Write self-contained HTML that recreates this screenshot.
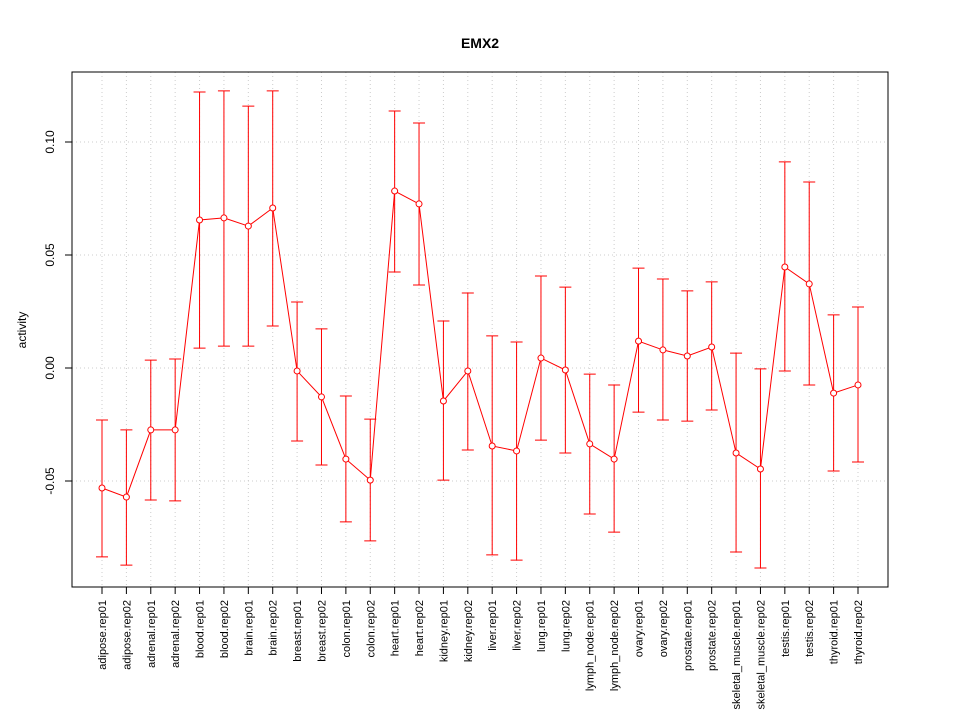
<!DOCTYPE html>
<html><head><meta charset="utf-8"><style>
body{margin:0;background:#fff}
svg{font-family:"Liberation Sans",Arial,sans-serif}
</style></head><body>
<svg id="chart" width="960" height="720" xmlns="http://www.w3.org/2000/svg">
<rect width="960" height="720" fill="#fff"/>
<text x="480" y="48" text-anchor="middle" font-size="14" font-weight="bold">EMX2</text>
<text transform="translate(26,330) rotate(-90)" text-anchor="middle" font-size="12">activity</text>
<g id="grid"></g><g id="axes"></g><g id="marks"></g>
<rect x="72" y="72" width="816" height="515" fill="none" stroke="#000"/>
</svg>
<script>
const categories=["adipose.rep01","adipose.rep02","adrenal.rep01","adrenal.rep02","blood.rep01","blood.rep02","brain.rep01","brain.rep02","breast.rep01","breast.rep02","colon.rep01","colon.rep02","heart.rep01","heart.rep02","kidney.rep01","kidney.rep02","liver.rep01","liver.rep02","lung.rep01","lung.rep02","lymph_node.rep01","lymph_node.rep02","ovary.rep01","ovary.rep02","prostate.rep01","prostate.rep02","skeletal_muscle.rep01","skeletal_muscle.rep02","testis.rep01","testis.rep02","thyroid.rep01","thyroid.rep02"];
const values=[-0.0531,-0.0571,-0.0274,-0.0274,0.0655,0.0664,0.0628,0.0708,-0.0013,-0.0128,-0.0403,-0.0496,0.0783,0.0726,-0.0146,-0.0013,-0.0345,-0.0367,0.0044,-0.0009,-0.0336,-0.0403,0.0119,0.0080,0.0053,0.0093,-0.0376,-0.0447,0.0447,0.0372,-0.0111,-0.0075];
const upper=[-0.0230,-0.0274,0.0035,0.0040,0.1221,0.1226,0.1159,0.1226,0.0292,0.0173,-0.0124,-0.0226,0.1137,0.1084,0.0208,0.0332,0.0142,0.0115,0.0407,0.0358,-0.0027,-0.0075,0.0442,0.0394,0.0341,0.0381,0.0066,-0.0004,0.0912,0.0823,0.0235,0.0270];
const lower=[-0.0836,-0.0872,-0.0584,-0.0588,0.0088,0.0097,0.0097,0.0186,-0.0323,-0.0429,-0.0681,-0.0765,0.0425,0.0367,-0.0496,-0.0363,-0.0827,-0.0850,-0.0319,-0.0376,-0.0646,-0.0726,-0.0195,-0.0230,-0.0235,-0.0186,-0.0814,-0.0885,-0.0013,-0.0075,-0.0456,-0.0416];
const yTicks=[-0.05,0.00,0.05,0.10];
const yTickLabels=["-0.05","0.00","0.05","0.10"];
const NS="http://www.w3.org/2000/svg";
function x(i){return 102+i*(858-102)/(categories.length-1);}
function y(v){return 368-v*2260;}
function mk(parent,tag,attrs){const e=document.createElementNS(NS,tag);for(const k in attrs)e.setAttribute(k,attrs[k]);document.getElementById(parent).appendChild(e);return e;}
categories.forEach((c,i)=>{
 let g=mk('grid','line',{x1:x(i),x2:x(i),y1:72,y2:587,stroke:'#ccc','stroke-dasharray':'1,3'});
 
 
 let t=mk('axes','line',{x1:x(i),x2:x(i),y1:587,y2:594,stroke:'#000'});
 
 
 let l=mk('axes','text',{transform:`translate(${x(i)+4},600) rotate(-90)`,'text-anchor':'end','font-size':'11'});
 l.textContent=c;
 
 
});
yTicks.forEach((v,i)=>{
 let g=mk('grid','line',{x1:72,x2:888,y1:y(v),y2:y(v),stroke:'#ccc','stroke-dasharray':'1,3'});
 
 
 let t=mk('axes','line',{x1:65,x2:72,y1:y(v),y2:y(v),stroke:'#000'});
 
 
 let l=mk('axes','text',{transform:`translate(54,${y(v)}) rotate(-90)`,'text-anchor':'middle','font-size':'12'});
 l.textContent=yTickLabels[i];
 
 
});
let ya=mk('axes','line',{x1:72,x2:72,y1:y(yTicks[0]),y2:y(yTicks[yTicks.length-1]),stroke:'#000'});


let xa=mk('axes','line',{x1:x(0),x2:x(categories.length-1),y1:587,y2:587,stroke:'#000'});


let pts=values.map((v,i)=>x(i)+','+y(v)).join(' ');
let line=mk('marks','polyline',{points:pts,fill:'none',stroke:'#f00'});


values.forEach((v,i)=>{
 const xi=x(i);
 let e=mk('marks','path',{d:`M${xi},${y(lower[i])}V${y(upper[i])}M${xi-6},${y(upper[i])}H${xi+6}M${xi-6},${y(lower[i])}H${xi+6}`,stroke:'#f00',fill:'none'});
 
 
 let p=mk('marks','circle',{cx:xi,cy:y(v),r:3,fill:'#fff',stroke:'#f00'});
 
 
});
</script>
</body></html>
